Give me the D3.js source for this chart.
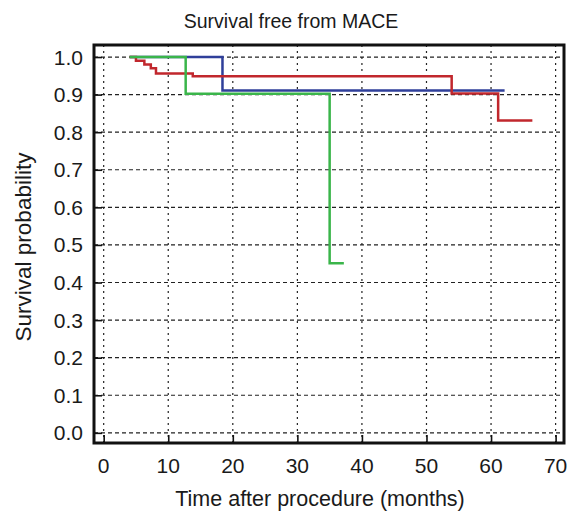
<!DOCTYPE html>
<html lang="en">
  <head>
    <meta charset="UTF-8" />
    <title>Survival free from MACE</title>
    <script src="https://d3js.org/d3.v7.min.js"></script>
    <style>
      body { margin: 0; background: #fff; }
      text { font-family: 'Liberation Sans', Arial, sans-serif; fill: #1a1a1a; }
    </style>
  </head>
  <body>
    <div id="chart"></div>
    <script>
      // Kaplan-Meier curves (time in months, survival)
      const redTimes = [4, 5, 6.3, 7.3, 8.1, 13.8, 53.9, 61.1, 66.4]
      const redSurv = [1.0, 0.99, 0.98, 0.97, 0.956, 0.949, 0.903, 0.831, 0.831]
      const blueTimes = [4, 18.4, 62.1]
      const blueSurv = [1.0, 0.911, 0.911]
      const greenTimes = [4, 12.7, 35.0, 37.2]
      const greenSurv = [1.0, 0.902, 0.451, 0.451]

      const xTicks = [0, 10, 20, 30, 40, 50, 60, 70]
      const yTicks = [0, 0.1, 0.2, 0.3, 0.4, 0.5, 0.6, 0.7, 0.8, 0.9, 1.0]

      const W = 569, H = 511
      const margin = { top: 45, right: 5, bottom: 68, left: 94 }
      const width = W - margin.left - margin.right
      const height = H - margin.top - margin.bottom

      const svg = d3.select('#chart').append('svg')
        .attr('width', W).attr('height', H)

      const g = svg.append('g')
        .attr('transform', `translate(${margin.left}, ${margin.top})`)

      const x = d3.scaleLinear().domain([-1.5, 71.3]).range([0, width])
      const y = d3.scaleLinear().domain([-0.027, 1.032]).range([height, 0])

      // grid
      g.append('g').selectAll('line').data(yTicks).join('line')
        .attr('x1', 0).attr('x2', width)
        .attr('y1', d => y(d)).attr('y2', d => y(d))
        .attr('stroke', '#222').attr('stroke-width', 1.2)
        .attr('stroke-dasharray', '4,3')
      g.append('g').selectAll('line').data(xTicks).join('line')
        .attr('y1', 0).attr('y2', height)
        .attr('x1', d => x(d)).attr('x2', d => x(d))
        .attr('stroke', '#222').attr('stroke-width', 1.2)
        .attr('stroke-dasharray', '2,4')

      // curves
      const line = d3.line()
        .x(d => x(d[0])).y(d => y(d[1]))
        .curve(d3.curveStepAfter)
      const series = [
        { t: blueTimes, s: blueSurv, color: '#2f3f9a' },
        { t: redTimes, s: redSurv, color: '#c1272d' },
        { t: greenTimes, s: greenSurv, color: '#3ab54a' }
      ]
      series.forEach(sr => {
        g.append('path')
          .datum(sr.t.map((t, i) => [t, sr.s[i]]))
          .attr('fill', 'none')
          .attr('stroke', sr.color)
          .attr('stroke-width', 2.5)
          .attr('d', line)
      })

      // axes: inward ticks with minor ticks
      const xAxis = g.append('g').attr('transform', `translate(0, ${height})`)
      xAxis.call(d3.axisTop(x).tickValues(d3.range(0, 71, 2)).tickSize(4).tickFormat(''))
      xAxis.call(d3.axisTop(x).tickValues(xTicks).tickSize(8).tickFormat(''))
      xAxis.selectAll('.domain').remove()
      xAxis.selectAll('line').attr('stroke', '#111').attr('stroke-width', 1.6)

      const yAxis = g.append('g')
      yAxis.call(d3.axisRight(y).tickValues(d3.range(0, 51).map(i => i / 50)).tickSize(5).tickFormat(''))
      yAxis.call(d3.axisRight(y).tickValues(yTicks).tickSize(8).tickFormat(''))
      yAxis.selectAll('.domain').remove()
      yAxis.selectAll('line').attr('stroke', '#111').attr('stroke-width', 1.6)

      // tick labels
      g.append('g').selectAll('text').data(xTicks).join('text')
        .attr('x', d => x(d)).attr('y', height + 30)
        .attr('text-anchor', 'middle').attr('font-size', 21)
        .text(d => d)
      g.append('g').selectAll('text').data(yTicks).join('text')
        .attr('x', -11).attr('y', d => y(d) + 7.5)
        .attr('text-anchor', 'end').attr('font-size', 21)
        .text(d => d.toFixed(1))

      // frame
      g.append('rect')
        .attr('width', width).attr('height', height)
        .attr('fill', 'none').attr('stroke', '#111').attr('stroke-width', 3)

      // titles
      svg.append('text')
        .attr('x', 291).attr('y', 28)
        .attr('text-anchor', 'middle').attr('font-size', 19.5)
        .text('Survival free from MACE')
      svg.append('text')
        .attr('x', 320).attr('y', 506)
        .attr('text-anchor', 'middle').attr('font-size', 21.5)
        .text('Time after procedure (months)')
      svg.append('text')
        .attr('transform', 'translate(31, 247) rotate(-90)')
        .attr('text-anchor', 'middle').attr('font-size', 22.5)
        .text('Survival probability')
    </script>
  </body>
</html>
